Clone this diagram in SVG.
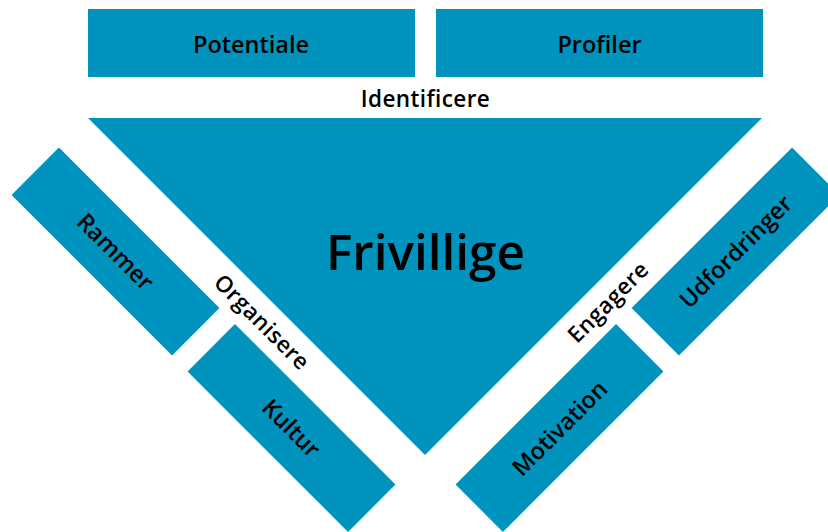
<svg xmlns="http://www.w3.org/2000/svg" width="828" height="532" viewBox="0 0 828 532">
  <style>
    .box { fill: #0093bd; }
    text { font-family: "Open Sans", "Liberation Sans", sans-serif; font-weight: 600; fill: #000000; text-anchor: middle; }
    .lbl { font-size: 23.5px; }
    .verb { font-size: 22.5px; letter-spacing: 0.4px; }
    .main { font-size: 49.5px; }
  </style>
  <rect width="828" height="532" fill="#ffffff"/>
  <g id="potentiale">
    <rect class="box" x="88" y="9" width="327" height="68"/>
    <text class="lbl" x="251" y="52.5">Potentiale</text>
  </g>
  <g id="profiler">
    <rect class="box" x="436" y="9" width="327" height="68"/>
    <text class="lbl" x="599.5" y="52.5">Profiler</text>
  </g>
  <g id="frivillige">
    <polygon class="box" points="88,118 762,118 425,455"/>
    <text class="main" x="425.5" y="270">Frivillige</text>
  </g>
  <g id="rammer" transform="translate(115.5,251.5) rotate(45)">
    <rect class="box" x="-113.5" y="-33.5" width="227" height="67"/>
    <text class="lbl" x="0" y="8.5">Rammer</text>
  </g>
  <g id="kultur" transform="translate(291.5,428) rotate(45)">
    <rect class="box" x="-113.5" y="-33.5" width="227" height="67"/>
    <text class="lbl" x="0" y="8.5">Kultur</text>
  </g>
  <g id="udfordringer" transform="translate(735.5,251.5) rotate(-45)">
    <rect class="box" x="-113.5" y="-33.5" width="227" height="67"/>
    <text class="lbl" x="0" y="8.5">Udfordringer</text>
  </g>
  <g id="motivation" transform="translate(559.5,428) rotate(-45)">
    <rect class="box" x="-113.5" y="-33.5" width="227" height="67"/>
    <text class="lbl" x="0" y="8.5">Motivation</text>
  </g>
  <g id="connectors">
    <text class="verb" x="425.5" y="106.5">Identificere</text>
    <text class="verb" transform="translate(262,322) rotate(45)" x="0" y="8">Organisere</text>
    <text class="verb" transform="translate(608,302) rotate(-45)" x="0" y="8">Engagere</text>
  </g>
</svg>
